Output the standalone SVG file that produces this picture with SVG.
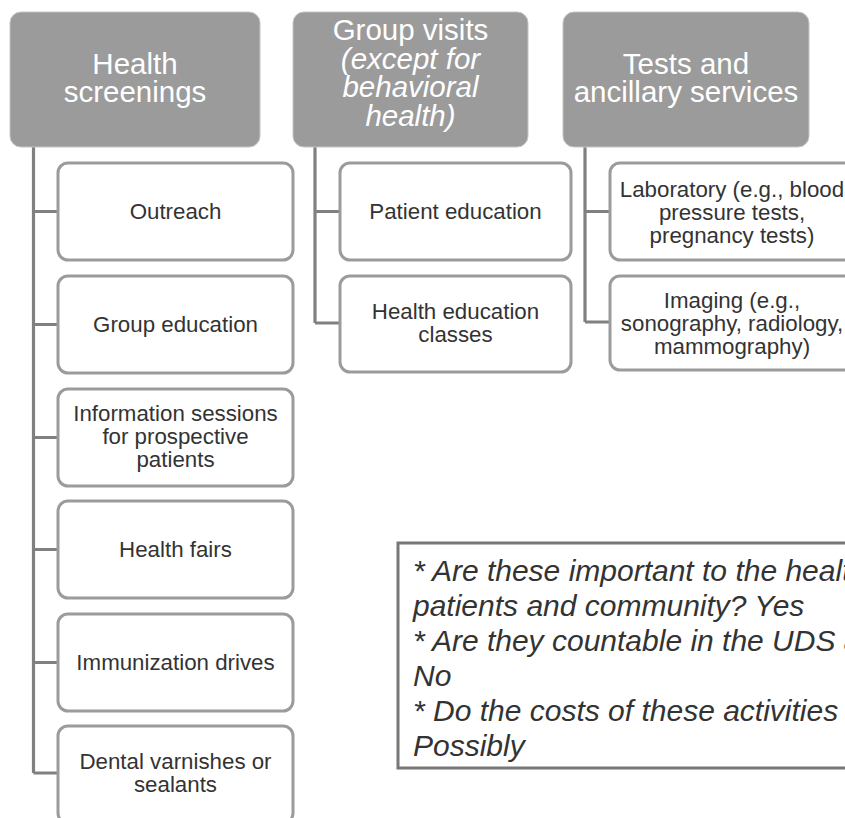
<svg xmlns="http://www.w3.org/2000/svg" width="845" height="818" viewBox="0 0 845 818">
<style>
.hdr{fill:#9b9b9b;stroke:#c4c4c4;stroke-width:1}
.ht{fill:#ffffff;font-family:"Liberation Sans",Arial,sans-serif;font-size:29.5px;text-anchor:middle}
.child{fill:#ffffff;stroke:#9b9b9b;stroke-width:3}
.ct{fill:#333333;font-family:"Liberation Sans",Arial,sans-serif;font-size:22.3px;text-anchor:middle}
.conn{fill:none;stroke:#808080;stroke-width:3.2}
.note{fill:#ffffff;stroke:#777777;stroke-width:3}
.nt{fill:#333333;font-family:"Liberation Sans",Arial,sans-serif;font-size:30px;font-style:italic}
</style>
<rect width="845" height="818" fill="#ffffff"/>
<g id="connectors">
<path class="conn" d="M33.5,147 V773 M33.5,211.5 H58 M33.5,324.5 H58 M33.5,437.5 H58 M33.5,549.5 H58 M33.5,662.5 H58 M33.5,773 H58"/>
<path class="conn" d="M315,147 V323 M315,211.5 H340 M315,323 H340"/>
<path class="conn" d="M585,147 V322 M585,211.5 H610 M585,322 H610"/>
</g>
<g id="health-screenings">
<rect class="hdr" x="10" y="12" width="250" height="135" rx="11"/>
<text class="ht" x="135" y="74">Health</text>
<text class="ht" x="135" y="102">screenings</text>
</g>
<g id="group-visits">
<rect class="hdr" x="293" y="12" width="235" height="135" rx="11"/>
<text class="ht" x="410.5" y="40">Group visits</text>
<text class="ht" x="410.5" y="68.5" font-style="italic">(except for</text>
<text class="ht" x="410.5" y="97" font-style="italic">behavioral</text>
<text class="ht" x="410.5" y="125.5" font-style="italic">health)</text>
</g>
<g id="tests">
<rect class="hdr" x="563" y="12" width="246" height="135" rx="11"/>
<text class="ht" x="686" y="74">Tests and</text>
<text class="ht" x="686" y="102">ancillary services</text>
</g>
<g id="outreach">
<rect class="child" x="58" y="163" width="235" height="97" rx="10"/>
<text class="ct" x="175.5" y="219">Outreach</text>
</g>
<g id="group-education">
<rect class="child" x="58" y="276" width="235" height="97" rx="10"/>
<text class="ct" x="175.5" y="332">Group education</text>
</g>
<g id="information-sessions">
<rect class="child" x="58" y="389" width="235" height="97" rx="10"/>
<text class="ct" x="175.5" y="421">Information sessions</text>
<text class="ct" x="175.5" y="444">for prospective</text>
<text class="ct" x="175.5" y="467">patients</text>
</g>
<g id="health-fairs">
<rect class="child" x="58" y="501" width="235" height="97" rx="10"/>
<text class="ct" x="175.5" y="557">Health fairs</text>
</g>
<g id="immunization-drives">
<rect class="child" x="58" y="614" width="235" height="97" rx="10"/>
<text class="ct" x="175.5" y="670">Immunization drives</text>
</g>
<g id="dental">
<rect class="child" x="58" y="726" width="235" height="97" rx="10"/>
<text class="ct" x="175.5" y="769">Dental varnishes or</text>
<text class="ct" x="175.5" y="792">sealants</text>
</g>
<g id="patient-education">
<rect class="child" x="340" y="163" width="231" height="97" rx="10"/>
<text class="ct" x="455.5" y="219">Patient education</text>
</g>
<g id="health-education-classes">
<rect class="child" x="340" y="276" width="231" height="96" rx="10"/>
<text class="ct" x="455.5" y="319">Health education</text>
<text class="ct" x="455.5" y="342">classes</text>
</g>
<g id="laboratory">
<rect class="child" x="610" y="163" width="244" height="97" rx="10"/>
<text class="ct" x="732" y="197">Laboratory (e.g., blood</text>
<text class="ct" x="732" y="220">pressure tests,</text>
<text class="ct" x="732" y="243">pregnancy tests)</text>
</g>
<g id="imaging">
<rect class="child" x="610" y="276" width="244" height="94" rx="10"/>
<text class="ct" x="732" y="308">Imaging (e.g.,</text>
<text class="ct" x="732" y="331">sonography, radiology,</text>
<text class="ct" x="732" y="354">mammography)</text>
</g>
<g id="note">
<rect class="note" x="398" y="543" width="470" height="225"/>
<text class="nt" x="413" y="581">* Are these important to the health</text>
<text class="nt" x="413" y="616">patients and community? Yes</text>
<text class="nt" x="413" y="651">* Are they countable in the UDS a</text>
<text class="nt" x="413" y="686">No</text>
<text class="nt" x="413" y="721">* Do the costs of these activities c</text>
<text class="nt" x="413" y="756">Possibly</text>
</g>
</svg>
